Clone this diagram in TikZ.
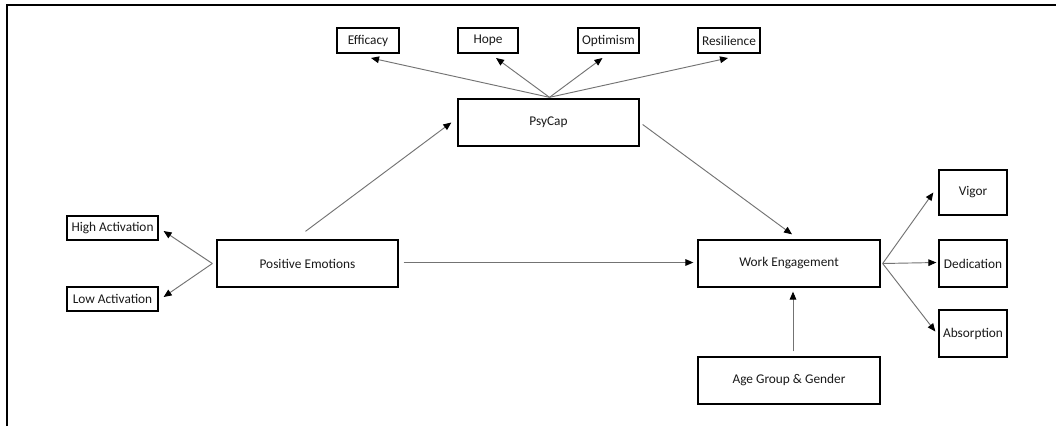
\documentclass[tikz,border=0pt]{standalone}
\usepackage{fontspec}
\setmainfont{Carlito}
\usetikzlibrary{arrows.meta,calc}
\begin{document}
\begin{tikzpicture}[x=0.75pt,y=-0.75pt,
  every node/.style={font=\fontsize{10}{12}\selectfont, text=black!90, inner sep=0pt},
  bigbox/.style={draw=black, line width=1pt, rectangle},
  smallbox/.style={draw=black, line width=1.5pt, rectangle},
  thinbox/.style={draw=black, line width=0.9pt, rectangle},
  arr/.style={draw=black!55, line width=0.7pt, -{Triangle[length=6pt,width=5pt,color=black]}},
  ln/.style={draw=black!55, line width=0.7pt}]
\useasboundingbox (0,0) rectangle (1056,426);
\fill[white] (0,0) rectangle (1056,426);
\draw[line width=1.1pt] (7,426) -- (7,5) -- (1056,5);

% top boxes
\node[smallbox, minimum width=46.5pt, minimum height=18.75pt] (eff) at (368,40.5) {Efficacy};
\node[smallbox, minimum width=45pt, minimum height=18.75pt] (hope) at (488,40.5) {Hope};
\node[smallbox, minimum width=45.75pt, minimum height=18.75pt] (opt) at (608.5,40.5) {Optimism};
\node[smallbox, minimum width=46.5pt, minimum height=18.75pt] (res) at (729,40.5) {Resilience};

\node[bigbox, minimum width=135.75pt, minimum height=35.25pt] (psy) at (548.5,122.5) {PsyCap};
\node[bigbox, minimum width=135.75pt, minimum height=35.25pt] (pe) at (307.5,263.5) {Positive Emotions};
\node[thinbox, minimum width=68.25pt, minimum height=18pt] (high) at (112.5,228) {High Activation};
\node[thinbox, minimum width=68.25pt, minimum height=18pt] (low) at (112.5,299) {Low Activation};
\node[bigbox, minimum width=136.5pt, minimum height=35.25pt] (we) at (789,263.5) {Work Engagement};
\node[bigbox, minimum width=136.5pt, minimum height=35.25pt] (age) at (789,380.5) {Age Group \& Gender};
\node[bigbox, minimum width=51pt, minimum height=33.75pt] (vig) at (973,192.5) {Vigor};
\node[bigbox, minimum width=51pt, minimum height=35.25pt] (ded) at (973,263.5) {Dedication};
\node[bigbox, minimum width=51pt, minimum height=35.25pt] (abs) at (973,333.5) {Absorption};

% PsyCap indicators
\draw[arr] ($(psy.north)+(1,-1)$) -- ($(eff.south)+(3,4)$);
\draw[arr] ($(psy.north)+(1,-1)$) -- ($(hope.south)+(8,4)$);
\draw[arr] ($(psy.north)+(1,-1)$) -- ($(opt.south)+(-6,4)$);
\draw[arr] ($(psy.north)+(1,-1)$) -- ($(res.south)+(-1,4)$);

% Positive emotions indicators
\draw[arr] ($(pe.west)+(-4,0)$) -- ($(high.east)+(5,3)$);
\draw[arr] ($(pe.west)+(-4,0)$) -- ($(low.east)+(5,-2)$);

% structural paths
\draw[arr] ($(pe.north)+(-2,-8)$) -- ($(psy.west)+(-6,0)$);
\draw[arr] ($(pe.east)+(5,-1)$) -- ($(we.west)+(-4,-1)$);
\draw[arr] ($(psy.east)+(3,2)$) -- ($(we.north)+(3,-5)$);
\draw[arr] ($(age.north)+(4,-5)$) -- ($(we.south)+(4,4)$);

% Work engagement indicators
\draw[arr] ($(we.east)+(2,0)$) -- ($(vig.west)+(-5,0)$);
\draw[arr] ($(we.east)+(2,0)$) -- ($(ded.west)+(-2,-1)$);
\draw[arr] ($(we.east)+(2,0)$) -- ($(abs.west)+(-3,-2)$);
\end{tikzpicture}
\end{document}
